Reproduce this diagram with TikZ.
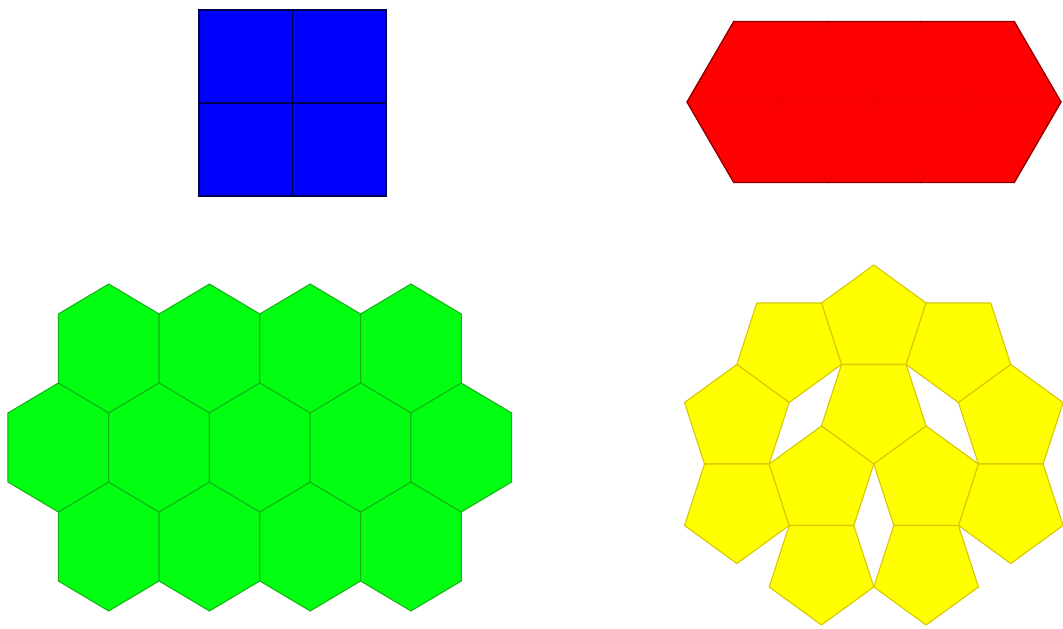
\documentclass[tikz,border=0pt]{standalone}
\usetikzlibrary{calc}

% Hexagon of the green tiling, centred at (#1,#2)
\newcommand{\drawHex}[2]{%
    \filldraw[hexStyle] ({#1},{#2+64.5}) -- ++(50.4,-30) -- ++(0,-69) -- ++(-50.4,-30) -- ++(-50.4,30) -- ++(0,69) -- cycle;}
% Regular pentagon centred at #1, first corner at angle #2
\newcommand{\drawPent}[2]{%
    \filldraw[pentStyle] ($(#1)+(#2:\pentR)$) -- ($(#1)+(#2+72:\pentR)$) -- ($(#1)+(#2+144:\pentR)$) -- ($(#1)+(#2+216:\pentR)$) -- ($(#1)+(#2+288:\pentR)$) -- cycle;}

\begin{document}
\begin{tikzpicture}[x=1pt, y=1pt,
    hexStyle/.style={fill=hexFill, draw=hexLine, line width=1pt},
    pentStyle/.style={fill=pentFill, draw=pentLine, line width=1.1pt, line join=round}]
    % Define colors
    \definecolor{squareFill}{HTML}{0000FF}
    \definecolor{squareLine}{HTML}{000050}
    \definecolor{triFill}{HTML}{FF0000}
    \definecolor{triLine}{HTML}{F00000}
    \definecolor{triBorder}{HTML}{8A0000}
    \definecolor{hexFill}{HTML}{00FF10}
    \definecolor{hexLine}{HTML}{14B014}
    \definecolor{pentFill}{HTML}{FFFF00}
    \definecolor{pentLine}{HTML}{D8C800}

    % Fix the picture size
    \useasboundingbox (0,0) rectangle (1063,629);

    % Draw the blue square made of four squares
    \filldraw[fill=squareFill, draw=squareLine, line width=1.2pt] (199,433) rectangle (386,619);
    \draw[squareLine, line width=1.4pt] (292.5,433) -- (292.5,619) (199,526) -- (386,526);

    % Define the triangle size
    \def\triSide{93.5}
    \def\triHeight{80.5}
    \def\redX{687}
    \def\redY{527}

    % Fill the red hexagon
    \fill[triFill] (\redX,\redY) -- ++(\triSide/2,\triHeight) -- ++(3*\triSide,0) -- ++(\triSide/2,-\triHeight)
        -- ++(-\triSide/2,-\triHeight) -- ++(-3*\triSide,0) -- cycle;
    % Draw the triangle edges inside it
    \foreach \k in {0,...,3}
        \draw[triLine, line width=1pt] ({\redX+\k*\triSide},\redY) -- ({\redX+(\k+0.5)*\triSide},{\redY+\triHeight})
            -- ({\redX+(\k+1)*\triSide},\redY) -- ({\redX+(\k+0.5)*\triSide},{\redY-\triHeight}) -- cycle;
    \draw[triLine, line width=1pt] (\redX,\redY) -- ++(4*\triSide,0);
    % Draw the border of the hexagon
    \draw[triBorder, line width=1.2pt, line join=round] (\redX,\redY) -- ++(\triSide/2,\triHeight) -- ++(3*\triSide,0) -- ++(\triSide/2,-\triHeight)
        -- ++(-\triSide/2,-\triHeight) -- ++(-3*\triSide,0) -- cycle;

    % Draw the green hexagons, row by row
    \foreach \x in {0,...,3} {
        \drawHex{108.7+100.75*\x}{280.5}
        \drawHex{108.7+100.75*\x}{82.5}
    }
    \foreach \x in {0,...,4}
        \drawHex{58.3+100.75*\x}{181.5};

    % Define the pentagon size (circumradius and twice the apothem)
    \def\pentR{55}
    \def\pentGap{89}

    % Place the pentagon centres, each one across an edge of the one before
    \coordinate (pentTop) at (873.8,309);
    \coordinate (pentMid) at ($(pentTop)+(270:\pentGap)$);
    \coordinate (pentUL) at ($(pentTop)+(198:\pentGap)$);
    \coordinate (pentUR) at ($(pentTop)+(342:\pentGap)$);
    \coordinate (pentLU) at ($(pentUL)+(234:\pentGap)$);
    \coordinate (pentRU) at ($(pentUR)+(306:\pentGap)$);
    \coordinate (pentLL) at ($(pentLU)+(270:\pentGap)$);
    \coordinate (pentRL) at ($(pentRU)+(270:\pentGap)$);
    \coordinate (pentIL) at ($(pentMid)+(234:\pentGap)$);
    \coordinate (pentIR) at ($(pentMid)+(306:\pentGap)$);
    \coordinate (pentBL) at ($(pentIL)+(270:\pentGap)$);
    \coordinate (pentBR) at ($(pentIR)+(270:\pentGap)$);

    % Draw the yellow pentagons
    \foreach \c/\t in {pentTop/90, pentMid/270, pentUL/198, pentUR/342, pentLU/234, pentRU/306,
                       pentLL/270, pentRL/270, pentIL/234, pentIR/306, pentBL/270, pentBR/270}
        \drawPent{\c}{\t};

\end{tikzpicture}
\end{document}
